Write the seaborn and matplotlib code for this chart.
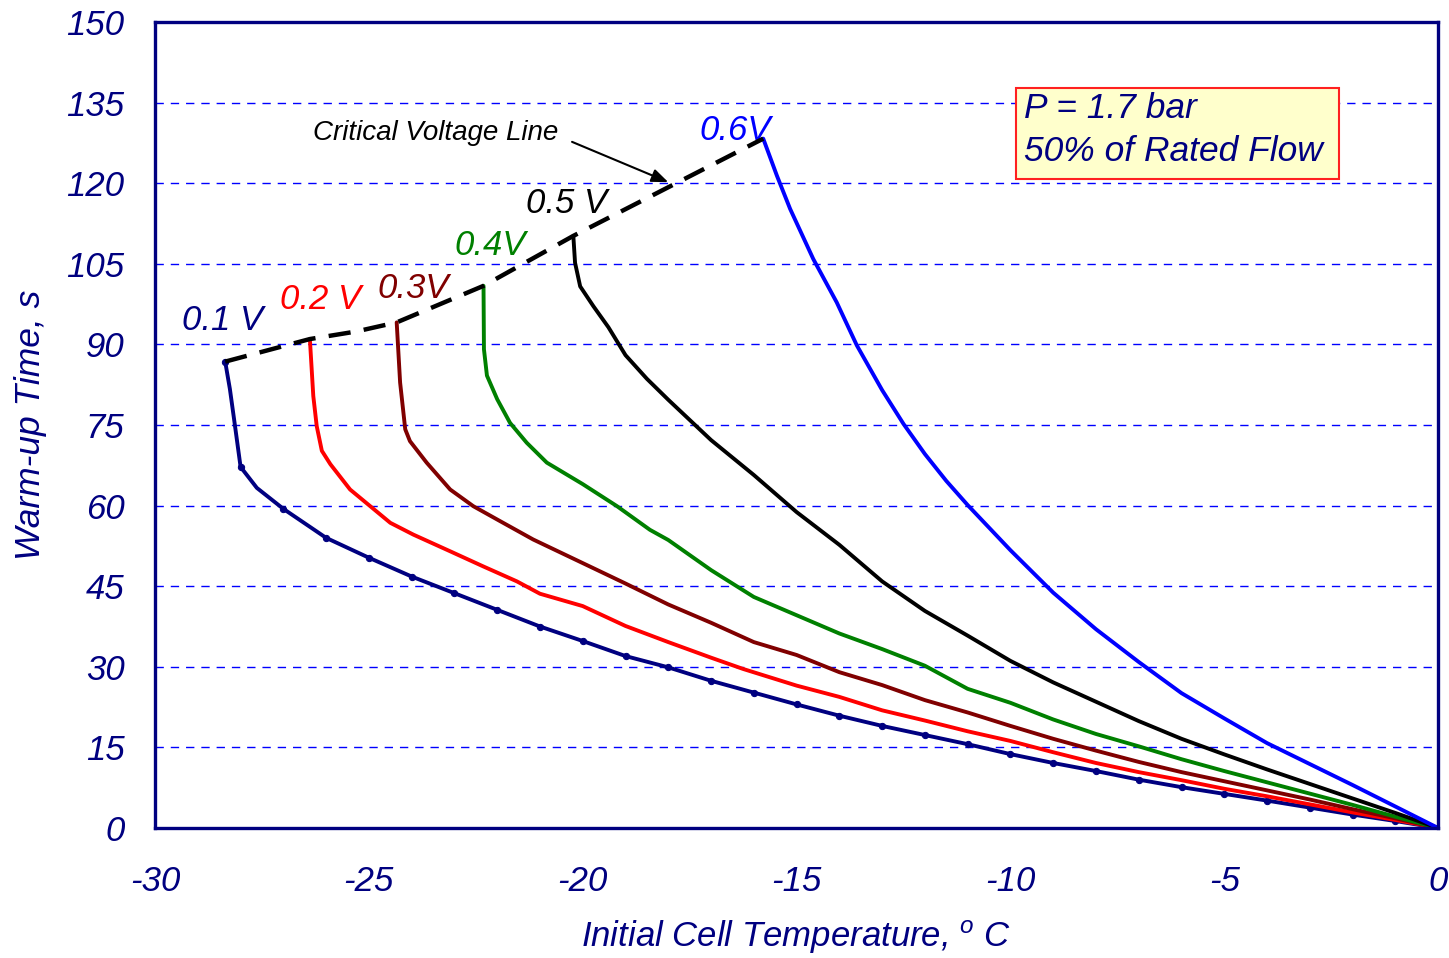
import matplotlib
matplotlib.use("Agg")
import matplotlib.pyplot as plt
import seaborn as sns
import pandas as pd
from matplotlib.patches import Rectangle
from matplotlib.ticker import MultipleLocator

# ── Data (x = initial cell temperature, y = warm-up time) ──
x_01 = [-28.36, -28.25, -28.13, -28.0, -27.62, -27.0, -26.0, -25.0, -24.0, -23.0, -22.0,
        -21.0, -20.0, -19.0, -18.0, -17.0, -16.0, -15.0, -14.0, -13.0, -12.0, -11.0,
        -10.0, -9.0, -8.0, -7.0, -6.0, -5.0, -4.0, -3.0, -2.0, -1.0, 0.0]
y_01 = [86.8, 81.7, 74.8, 67.2, 63.3, 59.4, 54.0, 50.3, 46.8, 43.7, 40.6,
        37.5, 34.8, 32.0, 29.9, 27.4, 25.2, 23.0, 20.9, 19.0, 17.3, 15.6,
        13.75, 12.1, 10.6, 9.0, 7.6, 6.35, 5.1, 3.8, 2.5, 1.3, 0.0]

x_02 = [-26.38, -26.30, -26.22, -26.1, -25.9, -25.44, -24.97, -24.5, -23.96, -23.1, -22.33,
        -21.54, -21.0, -20.0, -19.0, -18.0, -17.0, -16.25, -15.0, -14.0, -13.0, -12.0,
        -11.0, -10.0, -9.0, -8.0, -7.0, -6.0, -5.0, -4.0, -3.0, -2.0, -1.0, 0.0]
y_02 = [91.0, 80.4, 74.8, 70.2, 67.7, 63.0, 59.9, 56.8, 54.6, 51.5, 48.7,
        45.9, 43.6, 41.3, 37.6, 34.6, 31.7, 29.6, 26.5, 24.4, 21.9, 20.0,
        18.0, 16.2, 14.1, 12.1, 10.4, 8.9, 7.3, 5.9, 4.4, 2.9, 1.5, 0.0]

x_03 = [-24.35, -24.27, -24.15, -24.04, -23.65, -23.1, -22.56, -21.93, -21.16, -20.0, -19.0,
        -18.0, -17.0, -16.0, -15.0, -14.0, -13.0, -12.0, -11.0, -10.0, -9.0, -8.0,
        -7.0, -6.0, -5.0, -4.0, -3.0, -2.0, -1.0, 0.0]
y_03 = [94.1, 82.9, 74.2, 72.0, 68.0, 63.0, 59.9, 57.1, 53.7, 49.3, 45.5,
        41.6, 38.2, 34.6, 32.2, 29.0, 26.6, 23.8, 21.5, 19.0, 16.6, 14.4,
        12.3, 10.4, 8.7, 7.0, 5.3, 3.5, 1.8, 0.0]

x_04 = [-22.32, -22.31, -22.24, -22.0, -21.7, -21.31, -20.84, -20.0, -19.2, -18.43, -18.0,
        -17.0, -16.0, -15.0, -14.0, -13.0, -12.0, -11.0, -10.0, -9.0, -8.0, -7.0,
        -6.0, -5.0, -4.0, -3.0, -2.0, -1.0, 0.0]
y_04 = [100.9, 89.1, 84.2, 79.8, 75.4, 71.7, 68.0, 64.0, 59.9, 55.5, 53.6,
        48.0, 43.0, 39.6, 36.2, 33.3, 30.2, 25.9, 23.3, 20.2, 17.5, 15.2,
        12.8, 10.6, 8.5, 6.4, 4.3, 2.1, 0.0]

x_05 = [-20.22, -20.18, -20.06, -19.75, -19.4, -19.0, -18.5, -18.0, -17.0, -16.0, -15.0,
        -14.0, -13.0, -12.0, -11.0, -10.0, -9.0, -8.0, -7.0, -6.0, -5.0, -4.0,
        -3.0, -2.0, -1.0, 0.0]
y_05 = [110.2, 105.2, 100.8, 97.1, 93.2, 88.0, 83.6, 79.7, 72.2, 65.7, 58.8,
        52.7, 45.9, 40.4, 35.8, 31.1, 27.1, 23.5, 19.9, 16.6, 13.7, 10.9,
        8.2, 5.5, 2.8, 0.0]

x_06 = [-15.78, -15.46, -15.15, -14.61, -14.06, -13.59, -13.0, -12.5, -12.0, -11.5, -11.0,
        -10.0, -9.0, -8.0, -7.0, -6.0, -5.0, -4.0, -3.0, -2.0, -1.0, 0.0]
y_06 = [128.3, 121.4, 115.2, 105.9, 97.8, 89.8, 81.5, 75.2, 69.6, 64.6, 60.1,
        51.7, 43.8, 37.0, 30.9, 25.1, 20.4, 15.8, 11.9, 8.0, 4.0, 0.0]

# critical voltage line joins the top of each curve
crit_x = [-28.36, -26.38, -25.3, -24.35, -22.32, -20.22, -15.78]
crit_y = [86.8, 91.0, 92.4, 94.1, 100.9, 110.2, 128.3]

labels = ["0.1 V", "0.2 V", "0.3V", "0.4V", "0.5 V", "0.6V"]
label_x = [-28.43, -26.14, -23.97, -22.17, -20.37, -16.44]
label_y = [94.5, 98.3, 100.5, 108.5, 116.3, 129.9]
colors = ["#000080", "#FF0000", "#800000", "#008000", "#000000", "#0000FF"]

series = [(x_01, y_01), (x_02, y_02), (x_03, y_03),
          (x_04, y_04), (x_05, y_05), (x_06, y_06)]

NAVY = "#000080"

# ── Style ─────────────────────────────────────────────────────────────────────
sns.set_style("white")
plt.rcParams["font.family"] = ["Liberation Sans", "DejaVu Sans"]
plt.rcParams["axes.unicode_minus"] = False
plt.rcParams["mathtext.fontset"] = "custom"
plt.rcParams["mathtext.it"] = "Liberation Sans:italic"
plt.rcParams["mathtext.rm"] = "Liberation Sans:italic"

fig = plt.figure(figsize=(14.49, 9.58), dpi=100)
ax = fig.add_axes([0.107, 0.1357, 0.8855, 0.8413])

# ── Curves ────────────────────────────────────────────────────────────────────
for i, (xs, ys) in enumerate(series):
    df = pd.DataFrame({"x": xs, "y": ys})
    kw = {}
    if i == 0:
        marks = [k for k, v in enumerate(xs) if k == 0 or v == round(v)]
        kw = dict(marker="o", markersize=4.5, markevery=marks,
                  markeredgecolor=colors[i], markerfacecolor=colors[i])
    sns.lineplot(data=df, x="x", y="y", sort=False, estimator=None,
                 color=colors[i], lw=2.8, ax=ax, **kw)
    ax.text(label_x[i], label_y[i], labels[i], color=colors[i], fontsize=25,
            style="italic", ha="center", va="center")

crit = pd.DataFrame({"x": crit_x, "y": crit_y})
sns.lineplot(data=crit, x="x", y="y", sort=False, estimator=None,
             color="black", lw=3.2, ax=ax, zorder=3)
ax.lines[-1].set_linestyle((0, (5, 3)))

# annotation
ax.text(-23.43, 129.3, "Critical Voltage Line", fontsize=20, style="italic",
        ha="center", va="center", color="black")
ax.annotate("", xy=(-18.0, 120.2), xytext=(-20.25, 127.7),
            arrowprops=dict(arrowstyle="-|>,head_length=0.5,head_width=0.2",
                            color="black", lw=1.5, mutation_scale=20,
                            shrinkA=0, shrinkB=0))

# condition box
ax.add_patch(Rectangle((0.671, 0.805), 0.252, 0.113, transform=ax.transAxes,
                       facecolor="#FFFFCC", edgecolor="#FF2020", lw=1.5, zorder=4))
ax.text(0.6773, 0.893, "P = 1.7 bar", transform=ax.transAxes, fontsize=25.5,
        style="italic", color=NAVY, ha="left", va="center", zorder=5)
ax.text(0.6773, 0.839, "50% of Rated Flow", transform=ax.transAxes, fontsize=25.5,
        style="italic", color=NAVY, ha="left", va="center", zorder=5)

# ── Axes ──────────────────────────────────────────────────────────────────────
ax.set_xlim(-30, 0)
ax.set_ylim(0, 150)
ax.xaxis.set_major_locator(MultipleLocator(5))
ax.xaxis.set_minor_locator(MultipleLocator(1))
ax.yaxis.set_major_locator(MultipleLocator(15))
ax.yaxis.set_minor_locator(MultipleLocator(3))

ax.yaxis.grid(True, which="major", color="#0000FF", lw=1.0, linestyle=(0, (6, 5)))
ax.xaxis.grid(False)
ax.set_axisbelow(True)

for side in ["left", "right", "top", "bottom"]:
    ax.spines[side].set_visible(True)
    ax.spines[side].set_color(NAVY)
    ax.spines[side].set_linewidth(2.4)

ax.tick_params(which="both", direction="in", color=NAVY, width=1.5,
               top=False, right=False)
ax.tick_params(which="major", length=8, labelsize=25, labelcolor=NAVY)
ax.tick_params(which="minor", length=6)
ax.tick_params(axis="x", which="major", pad=27)
ax.tick_params(axis="y", which="major", pad=22)
for lbl in ax.get_xticklabels() + ax.get_yticklabels():
    lbl.set_style("italic")

ax.set_xlabel("Initial Cell Temperature, $^{o}$ C", fontsize=25, style="italic",
              color=NAVY, labelpad=14)
ax.set_ylabel("Warm-up Time, s", fontsize=25.5, style="italic", color=NAVY, labelpad=14)

fig.savefig("out.png", dpi=100)
